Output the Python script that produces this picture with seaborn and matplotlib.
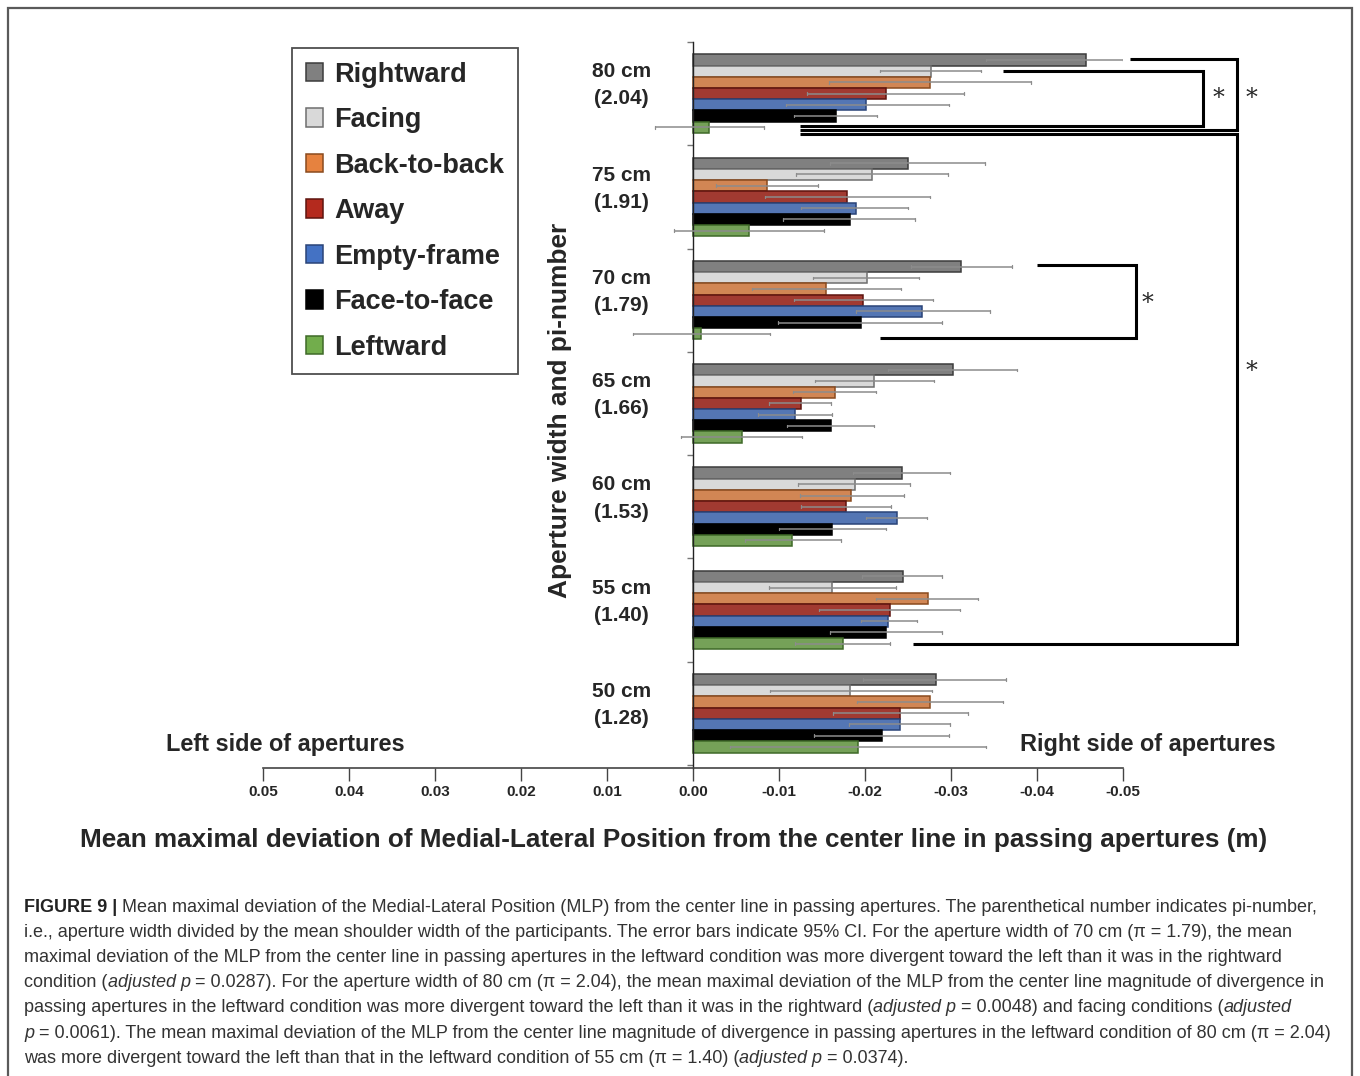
import numpy as np
import pandas as pd
import matplotlib
matplotlib.use("Agg")
import matplotlib.pyplot as plt
from matplotlib.patches import Patch, Rectangle
import seaborn as sns

# ---- data -------------------------------------------------------------
apertures = ["80 cm", "75 cm", "70 cm", "65 cm", "60 cm", "55 cm", "50 cm"]
pi_numbers = ["(2.04)", "(1.91)", "(1.79)", "(1.66)", "(1.53)", "(1.40)", "(1.28)"]
conditions = ["Rightward", "Facing", "Back-to-back", "Away",
              "Empty-frame", "Face-to-face", "Leftward"]

# mean maximal deviation of MLP (m); negative = toward the right side
rightward = [-0.0457, -0.0250, -0.0312, -0.0302, -0.0243, -0.0244, -0.0282]
facing = [-0.0277, -0.0208, -0.0202, -0.0211, -0.0188, -0.0162, -0.0183]
back_to_back = [-0.0276, -0.0086, -0.0155, -0.0165, -0.0184, -0.0273, -0.0276]
away = [-0.0224, -0.0179, -0.0198, -0.0125, -0.0178, -0.0229, -0.0241]
empty_frame = [-0.0201, -0.0189, -0.0266, -0.0119, -0.0237, -0.0227, -0.0241]
face_to_face = [-0.0166, -0.0182, -0.0195, -0.0161, -0.0162, -0.0224, -0.0220]
leftward = [-0.0019, -0.0065, -0.0009, -0.0057, -0.0115, -0.0174, -0.0192]

# 95% CI bounds (near-centre end, far end)
rightward_ci = ([-0.0341, -0.0159, -0.0253, -0.0227, -0.0186, -0.0196, -0.0198],
                [-0.0500, -0.0340, -0.0371, -0.0377, -0.0299, -0.0290, -0.0364])
facing_ci = ([-0.0217, -0.0120, -0.0140, -0.0142, -0.0122, -0.0088, -0.0089],
             [-0.0335, -0.0296, -0.0263, -0.0280, -0.0252, -0.0236, -0.0278])
back_to_back_ci = ([-0.0158, -0.0027, -0.0069, -0.0116, -0.0124, -0.0213, -0.0191],
                   [-0.0393, -0.0145, -0.0242, -0.0213, -0.0245, -0.0331, -0.0361])
away_ci = ([-0.0133, -0.0084, -0.0117, -0.0088, -0.0126, -0.0147, -0.0163],
           [-0.0315, -0.0275, -0.0279, -0.0161, -0.0230, -0.0310, -0.0320])
empty_frame_ci = ([-0.0108, -0.0126, -0.0190, -0.0076, -0.0201, -0.0195, -0.0181],
                  [-0.0298, -0.0250, -0.0345, -0.0162, -0.0272, -0.0261, -0.0299])
face_to_face_ci = ([-0.0118, -0.0105, -0.0099, -0.0109, -0.0100, -0.0159, -0.0141],
                   [-0.0214, -0.0258, -0.0290, -0.0211, -0.0224, -0.0289, -0.0298])
leftward_ci = ([0.0044, 0.0022, 0.0070, 0.0014, -0.0060, -0.0119, -0.0043],
               [-0.0083, -0.0152, -0.0089, -0.0127, -0.0172, -0.0229, -0.0341])

x_ticks = [0.05, 0.04, 0.03, 0.02, 0.01, 0.0, -0.01, -0.02, -0.03, -0.04, -0.05]
x_tick_labels = ["0.05", "0.04", "0.03", "0.02", "0.01", "0.00",
                 "-0.01", "-0.02", "-0.03", "-0.04", "-0.05"]

means = [rightward, facing, back_to_back, away, empty_frame, face_to_face, leftward]
cis = [rightward_ci, facing_ci, back_to_back_ci, away_ci,
       empty_frame_ci, face_to_face_ci, leftward_ci]

fills = ["#808080", "#d9d9d9", "#e6823f", "#b42a1e", "#4472c4", "#000000", "#72ad4c"]
edges = ["#3c3c3c", "#6e6e6e", "#8a4a1e", "#5e140e", "#2a4478", "#000000", "#3f6a28"]

df = pd.DataFrame({
    "aperture": np.tile(apertures, len(conditions)),
    "condition": np.repeat(conditions, len(apertures)),
    "mlp": np.concatenate(means),
})

# ---- figure -----------------------------------------------------------
sns.set_style("white")
plt.rcParams["font.family"] = ["Liberation Sans", "DejaVu Sans"]
NARROW = ["Liberation Sans Narrow", "Liberation Sans", "DejaVu Sans"]

W, H = 1360, 1076
fig = plt.figure(figsize=(W / 100, H / 100), dpi=100)
ax = fig.add_axes([263 / W, 1 - 768 / H, 860 / W, 726 / H])


def fx(px):
    return px / W


def fy(py):
    return 1 - py / H


sns.barplot(data=df, x="mlp", y="aperture", hue="condition", orient="h",
            order=apertures, hue_order=conditions, palette=fills,
            width=0.76, errorbar=None, legend=False, ax=ax, zorder=2)

for cont, ec, (lo, hi) in zip(ax.containers, edges, cis):
    for bar, a, b in zip(cont, lo, hi):
        bar.set_edgecolor(ec)
        bar.set_linewidth(1.1)
        yc = bar.get_y() + bar.get_height() / 2
        ax.plot([a, b], [yc, yc], color="#8c8c8c", lw=1.1, zorder=3,
                solid_capstyle="butt")
        for e in (a, b):
            ax.plot([e, e], [yc - 0.012, yc + 0.012], color="#8c8c8c",
                    lw=0.9, zorder=3)

ax.set_xlim(0.05, -0.05)
ax.set_ylim(6.53, -0.5)
ax.set_xticks(x_ticks)
ax.set_xticklabels(x_tick_labels, family=NARROW, fontweight="bold", fontsize=11)
ax.set_yticks(np.arange(-0.5, 7, 1))
ax.set_yticklabels([])
ax.set_xlabel("")
ax.set_ylabel("")

for s in ("top", "right"):
    ax.spines[s].set_visible(False)
ax.spines["left"].set_position(("data", 0))
ax.spines["left"].set_color("#222222")
ax.spines["bottom"].set_color("#444444")
ax.spines["left"].set_linewidth(1.0)
ax.spines["bottom"].set_linewidth(1.2)
ax.tick_params(axis="x", direction="out", length=9, width=1.0, color="#444444",
               pad=3, bottom=True)
ax.tick_params(axis="y", direction="out", length=4, width=1.0, color="#777777",
               left=True)

# group labels on the left of the centre line
for i, (ap, pn) in enumerate(zip(apertures, pi_numbers)):
    ax.text(0.0083, i - 0.08, f"{ap}\n{pn}", ha="center", va="center",
            fontsize=15, fontweight="bold", linespacing=1.55, zorder=4)

# significance brackets
bk = dict(color="black", lw=2.2, clip_on=False, zorder=4,
          solid_joinstyle="miter", solid_capstyle="butt")
ax.plot([-0.0508, -0.0633, -0.0633, -0.0124], [-0.333, -0.333, 0.353, 0.353], **bk)
ax.plot([-0.0360, -0.0593, -0.0593, -0.0124], [-0.217, -0.217, 0.314, 0.314], **bk)
ax.plot([-0.0124, -0.0633, -0.0633, -0.0256], [0.391, 0.391, 5.329, 5.329], **bk)
ax.plot([-0.0400, -0.0515, -0.0515, -0.0217], [1.657, 1.657, 2.362, 2.362], **bk)
star = dict(ha="center", va="center", fontsize=17, clip_on=False,
            family=["DejaVu Serif"])
ax.text(-0.0650, 0.05, "*", **star)
ax.text(-0.0611, 0.05, "*", **star)
ax.text(-0.0650, 2.69, "*", **star)
ax.text(-0.0529, 2.03, "*", **star)

# legend
handles = [Patch(facecolor=f, edgecolor=e, linewidth=1.1) for f, e in zip(fills, edges)]
leg = ax.legend(handles, conditions, loc="upper left",
                bbox_to_anchor=(fx(292), fy(48)), bbox_transform=fig.transFigure,
                frameon=True, fancybox=False, edgecolor="#222222",
                prop={"family": NARROW, "weight": "bold", "size": 19.5},
                handlelength=0.65, handleheight=0.65, handletextpad=0.4,
                labelspacing=0.72, borderpad=0.5, borderaxespad=0)
leg.get_frame().set_linewidth(1.3)

# axis texts
fig.text(fx(560), fy(410), "Aperture width and pi-number", rotation=90,
         ha="center", va="center", fontsize=18.9, fontweight="bold")
fig.text(fx(166), fy(745), "Left side of apertures", ha="left", va="center",
         fontsize=16.9, fontweight="bold")
fig.text(fx(1276), fy(745), "Right side of apertures", ha="right", va="center",
         fontsize=16.9, fontweight="bold")
fig.text(fx(674), fy(840),
         "Mean maximal deviation of Medial-Lateral Position from the center line "
         "in passing apertures (m)", ha="center", va="center",
         fontsize=18.8, fontweight="bold")

# outer frame
fig.patches.append(Rectangle((fx(8), -0.02), fx(1344), fy(8) + 0.02,
                             transform=fig.transFigure, fill=False,
                             edgecolor="#5a5a5a", lw=1.6))

# caption, drawn run by run so bold and italic pieces sit inline
caption = [
    [("FIGURE 9 |", "bold", "normal"),
     (" Mean maximal deviation of the Medial-Lateral Position (MLP) from the center line "
      "in passing apertures. The parenthetical number indicates pi-number,", "normal", "normal")],
    [("i.e., aperture width divided by the mean shoulder width of the participants. The error "
      "bars indicate 95% CI. For the aperture width of 70 cm (\u03c0 = 1.79), the mean",
      "normal", "normal")],
    [("maximal deviation of the MLP from the center line in passing apertures in the leftward "
      "condition was more divergent toward the left than it was in the rightward",
      "normal", "normal")],
    [("condition (", "normal", "normal"), ("adjusted p", "normal", "italic"),
     (" = 0.0287). For the aperture width of 80 cm (\u03c0 = 2.04), the mean maximal deviation "
      "of the MLP from the center line magnitude of divergence in", "normal", "normal")],
    [("passing apertures in the leftward condition was more divergent toward the left than it "
      "was in the rightward (", "normal", "normal"), ("adjusted p", "normal", "italic"),
     (" = 0.0048) and facing conditions (", "normal", "normal"),
     ("adjusted", "normal", "italic")],
    [("p", "normal", "italic"),
     (" = 0.0061). The mean maximal deviation of the MLP from the center line magnitude of "
      "divergence in passing apertures in the leftward condition of 80 cm (\u03c0 = 2.04)",
      "normal", "normal")],
    [("was more divergent toward the left than that in the leftward condition of 55 cm "
      "(\u03c0 = 1.40) (", "normal", "normal"), ("adjusted p", "normal", "italic"),
     (" = 0.0374).", "normal", "normal")],
]

renderer = fig.canvas.get_renderer()
cap_size = 13.0


def run_width(s, weight, style):
    t1 = fig.text(0, 0, "|" + s + "|", fontsize=cap_size, fontweight=weight, fontstyle=style)
    t2 = fig.text(0, 0, "||", fontsize=cap_size, fontweight=weight, fontstyle=style)
    w = t1.get_window_extent(renderer).width - t2.get_window_extent(renderer).width
    t1.remove()
    t2.remove()
    return w


for li, runs in enumerate(caption):
    x = 24.0
    y = 907 + li * 25.2
    for s, weight, style in runs:
        fig.text(fx(x), fy(y), s, fontsize=cap_size, fontweight=weight,
                 fontstyle=style, ha="left", va="center",
                 color="#222222" if weight == "bold" else "#333333")
        x += run_width(s, weight, style)

fig.savefig("out.png", dpi=100)
